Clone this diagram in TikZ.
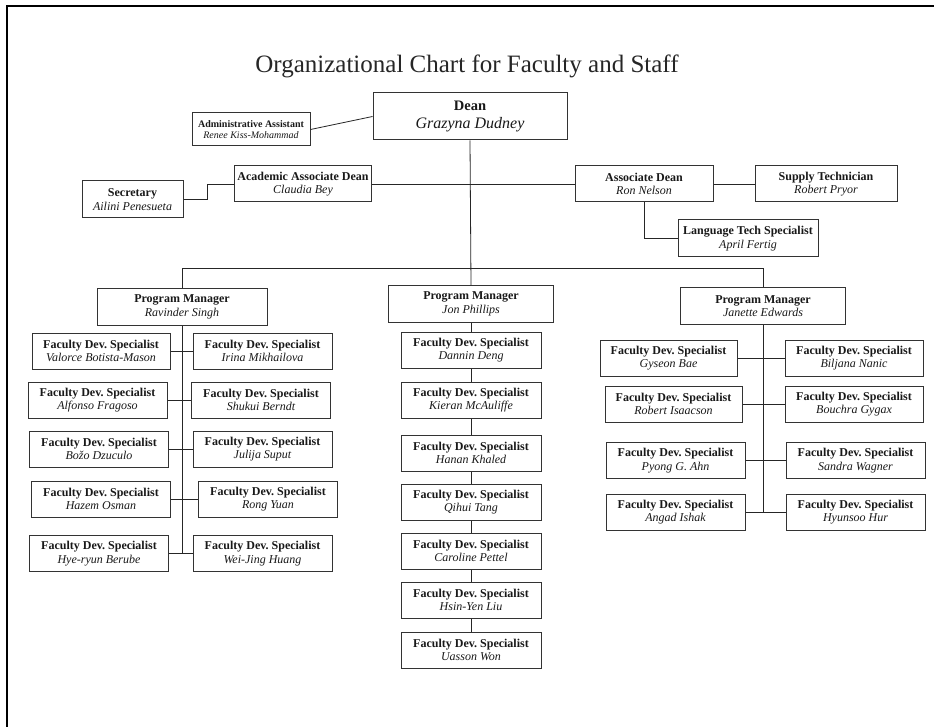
\documentclass[tikz,border=0pt]{standalone}
\usepackage{fontspec}
\setmainfont{Liberation Serif}
\frenchspacing
\tikzset{
  x=1pt,y=-1pt,
  box/.style={draw=black!80, line width=1pt, fill=white, align=center, inner sep=0pt,
    minimum height=36pt, font=\fontsize{12}{13.5}\selectfont, text=black!90},
  conn/.style={draw=black!85, line width=0.8pt},
}
\newcommand{\fds}[1]{{\bfseries Faculty Dev. Specialist}\\{\itshape #1}}
\newcommand{\rolebox}[2]{{\bfseries #1}\\{\itshape #2}}
\begin{document}
\begin{tikzpicture}
\useasboundingbox (0,0) rectangle (934,727);
\fill[white] (0,0) rectangle (934,727);
% frame
\coordinate (frameTL) at (7,6);
\coordinate (frameTR) at (934,6);
\coordinate (frameBL) at (7,727);
\draw[line width=2pt] (frameBL) -- (frameTL) -- (frameTR);

% title
\node[font=\fontsize{25}{28}\selectfont, text=black!85] (title) at (467,66) {Organizational Chart for Faculty and Staff};

% top level
\node[box, minimum width=194pt, minimum height=47pt, font=\fontsize{16}{18.5}\selectfont] (dean) at (470,116.5)
  {{\bfseries\fontsize{14.5}{18.5}\selectfont Dean}\\{\itshape Grazyna Dudney}};
\node[box, minimum width=118pt, minimum height=33pt, font=\fontsize{10}{11.5}\selectfont] (admin) at (251,129.5)
  {\rolebox{Administrative Assistant}{Renee Kiss-Mohammad}};
\node[box, minimum width=101pt, minimum height=37pt] (sec) at (132.5,199.5) {\rolebox{Secretary}{Ailini Penesueta}};
\node[box, minimum width=137pt] (aad) at (303,184) {\rolebox{Academic Associate Dean}{Claudia Bey}};
\node[box, minimum width=138pt] (ad) at (644,184) {\rolebox{Associate Dean}{Ron Nelson}};
\node[box, minimum width=142pt] (st) at (826,184) {\rolebox{Supply Technician}{Robert Pryor}};
\node[box, minimum width=140pt, minimum height=37pt] (lts) at (748,238.5) {\rolebox{Language Tech Specialist}{April Fertig}};

% program managers
\node[box, minimum width=170pt] (pmL) at (182,307) {\rolebox{Program Manager}{Ravinder Singh}};
\node[box, minimum width=165pt] (pmM) at (471,304) {\rolebox{Program Manager}{Jon Phillips}};
\node[box, minimum width=165pt] (pmR) at (763,306) {\rolebox{Program Manager}{Janette Edwards}};

% left column
\node[box, minimum width=138pt] (L1) at (101,351) {\fds{Valorce Botista-Mason}};
\node[box, minimum width=139pt] (R1) at (262.5,351) {\fds{Irina Mikhailova}};
\node[box, minimum width=139pt] (L2) at (97.5,400) {\fds{Alfonso Fragoso}};
\node[box, minimum width=139pt] (R2) at (261,400) {\fds{Shukui Berndt}};
\node[box, minimum width=139pt] (L3) at (99,449) {\fds{Božo Dzuculo}};
\node[box, minimum width=139pt] (R3) at (262.5,449) {\fds{Julija Suput}};
\node[box, minimum width=139pt] (L4) at (101,499) {\fds{Hazem Osman}};
\node[box, minimum width=139pt] (R4) at (268,499) {\fds{Rong Yuan}};
\node[box, minimum width=139pt] (L5) at (99,553.5) {\fds{Hye-ryun Berube}};
\node[box, minimum width=139pt] (R5) at (262.5,553.5) {\fds{Wei-Jing Huang}};

% middle column
\node[box, minimum width=140pt] (M1) at (471,350) {\fds{Dannin Deng}};
\node[box, minimum width=140pt] (M2) at (471,400) {\fds{Kieran McAuliffe}};
\node[box, minimum width=140pt] (M3) at (471,453) {\fds{Hanan Khaled}};
\node[box, minimum width=140pt] (M4) at (471,502) {\fds{Qihui Tang}};
\node[box, minimum width=140pt] (M5) at (471,551) {\fds{Caroline Pettel}};
\node[box, minimum width=140pt] (M6) at (471,600) {\fds{Hsin-Yen Liu}};
\node[box, minimum width=140pt] (M7) at (471,650) {\fds{Uasson Won}};

% right column
\node[box, minimum width=137pt] (RL1) at (668.5,358) {\fds{Gyseon Bae}};
\node[box, minimum width=138pt] (RR1) at (854,358) {\fds{Biljana Nanic}};
\node[box, minimum width=137pt] (RL2) at (673.5,404) {\fds{Robert Isaacson}};
\node[box, minimum width=138pt] (RR2) at (854,404) {\fds{Bouchra Gygax}};
\node[box, minimum width=139pt] (RL3) at (675.5,460.5) {\fds{Pyong G. Ahn}};
\node[box, minimum width=139pt] (RR3) at (855.5,460.5) {\fds{Sandra Wagner}};
\node[box, minimum width=139pt] (RL4) at (675.5,512) {\fds{Angad Ishak}};
\node[box, minimum width=139pt] (RR4) at (855.5,512) {\fds{Hyunsoo Hur}};

% connectors (top)
\coordinate (bar) at (0,268);
\draw[conn] (admin.east) -- (dean.west);
\draw[conn] (dean.south) -- (pmM.north);
\draw[conn] (aad.east) -- (ad.west);
\draw[conn] (ad.east) -- (st.west);
\draw[conn] (sec.east) -- ++(24,0) |- (aad.west);
\draw[conn] (ad.south) |- (lts.west);
\draw[conn] (pmL.north) -- (pmL.north |- bar) -- (pmR.north |- bar) -- (pmR.north);

% left column connectors
\draw[conn] (pmL.south) -- (pmL.south |- L5.east);
\draw[conn] (L1.east) -- (R1.west);
\draw[conn] (L2.east) -- (R2.west);
\draw[conn] (L3.east) -- (R3.west);
\draw[conn] (L4.east) -- (R4.west);
\draw[conn] (L5.east) -- (R5.west);

% middle column connectors
\draw[conn] (pmM.south) -- (M1.north);
\draw[conn] (M1.south) -- (M2.north);
\draw[conn] (M2.south) -- (M3.north);
\draw[conn] (M3.south) -- (M4.north);
\draw[conn] (M4.south) -- (M5.north);
\draw[conn] (M5.south) -- (M6.north);
\draw[conn] (M6.south) -- (M7.north);

% right column connectors
\draw[conn] (pmR.south) -- (pmR.south |- RL4.east);
\draw[conn] (RL1.east) -- (RR1.west);
\draw[conn] (RL2.east) -- (RR2.west);
\draw[conn] (RL3.east) -- (RR3.west);
\draw[conn] (RL4.east) -- (RR4.west);
\end{tikzpicture}
\end{document}
